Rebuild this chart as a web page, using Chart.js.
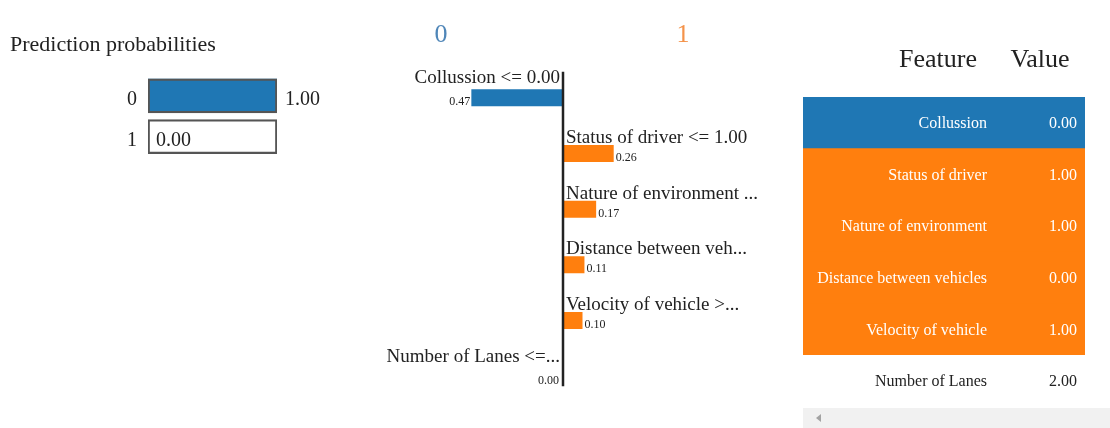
<!DOCTYPE html>
<html>
<head>
<meta charset="utf-8">
<script src="https://cdn.jsdelivr.net/npm/chart.js@4/dist/chart.umd.min.js"></script>
<style>
    body { margin: 0; background: #fff; width: 1110px; height: 428px; overflow: hidden; position: relative; }
    canvas { position: absolute; top: 0; }
    #proba { left: 0; }
    #explain { left: 370px; }
    #table { left: 790px; }
    .scroll { position: absolute; left: 803px; top: 408px; width: 307px; height: 20px; background: #f1f1f1; }
    .scroll .arrow { position: absolute; left: 13px; top: 6px; width: 0; height: 0;
        border-top: 4px solid transparent; border-bottom: 4px solid transparent; border-right: 5px solid #a3a3a3; }
</style>
</head>
<body>
<canvas id="proba" width="340" height="180"></canvas>
<canvas id="explain" width="420" height="428"></canvas>
<canvas id="table" width="320" height="428"></canvas>
<div class="scroll"><div class="arrow"></div></div>
<script>
// data
const classNames = ['0', '1'];
const probabilities = [1.00, 0.00];
const ruleLabels = ['Collussion <= 0.00', 'Status of driver <= 1.00', 'Nature of environment ...',
    'Distance between veh...', 'Velocity of vehicle >...', 'Number of Lanes <=...'];
const weights = [-0.47, 0.26, 0.17, 0.11, 0.10, 0.00];
const featureNames = ['Collussion', 'Status of driver', 'Nature of environment',
    'Distance between vehicles', 'Velocity of vehicle', 'Number of Lanes'];
const featureValues = [0.00, 1.00, 1.00, 0.00, 1.00, 2.00];

const classColors = ['#1f77b4', '#ff7f0e'];
const titleColors = ['#4f86b8', '#f4934a'];
const FONT = '"Liberation Serif", "Times New Roman", serif';
const TEXT = '#222';

// prediction probabilities
const probaText = {
    id: 'probaText',
    afterDatasetsDraw(chart) {
        const ctx = chart.ctx;
        const meta = chart.getDatasetMeta(0);
        const x = chart.scales.x;
        ctx.save();
        ctx.font = `20px ${FONT}`;
        ctx.fillStyle = TEXT;
        ctx.textBaseline = 'middle';
        ctx.textAlign = 'left';
        probabilities.forEach((p, i) => {
            ctx.fillText(p.toFixed(2), x.getPixelForValue(p) + 8, meta.data[i].y + 4);
        });
        ctx.restore();
    }
};

new Chart(document.getElementById('proba'), {
    type: 'bar',
    data: {
        labels: classNames,
        datasets: [{
            data: probabilities,
            backgroundColor: classColors,
            borderWidth: 0,
            inflateAmount: 0,
            barThickness: 34,
            grouped: false,
            order: 2
        }, {
            data: classNames.map(() => 1),
            backgroundColor: 'rgba(0,0,0,0)',
            borderColor: '#555',
            borderWidth: 1.5,
            borderSkipped: false,
            barThickness: 34,
            grouped: false,
            order: 1
        }]
    },
    options: {
        indexAxis: 'y',
        responsive: false,
        animation: false,
        devicePixelRatio: 1,
        layout: { padding: { left: 10, right: 63, top: 0, bottom: 19 } },
        scales: {
            x: { display: false, min: 0, max: 1 },
            y: {
                grid: { display: false, drawTicks: false },
                border: { display: false },
                ticks: { padding: 11, labelOffset: 4, color: TEXT, font: { family: FONT, size: 20 } },
                afterFit: (scale) => { scale.width = 138; }
            }
        },
        plugins: {
            legend: { display: false },
            tooltip: { enabled: false },
            title: {
                display: true,
                text: 'Prediction probabilities',
                align: 'start',
                color: TEXT,
                font: { family: FONT, size: 22, weight: 'normal' },
                padding: { top: 32, bottom: 17 }
            }
        }
    },
    plugins: [probaText]
});

// explanation bars
const explainText = {
    id: 'explainText',
    afterDatasetsDraw(chart) {
        const ctx = chart.ctx;
        const x = chart.scales.x;
        const zero = x.getPixelForValue(0);
        const meta = chart.getDatasetMeta(0);
        const bars = meta.data;
        ctx.save();

        // class headings
        ctx.font = `26px ${FONT}`;
        ctx.textAlign = 'center';
        ctx.textBaseline = 'alphabetic';
        ctx.fillStyle = titleColors[0];
        ctx.fillText(classNames[0], 71, 42);
        ctx.fillStyle = titleColors[1];
        ctx.fillText(classNames[1], 313, 42);

        // zero axis
        ctx.strokeStyle = TEXT;
        ctx.lineWidth = 2.5;
        ctx.beginPath();
        ctx.moveTo(zero, bars[0].y - 26);
        ctx.lineTo(zero, bars[bars.length - 1].y + 10);
        ctx.stroke();

        ctx.fillStyle = TEXT;
        weights.forEach((w, i) => {
            const bar = bars[i];
            const top = bar.y - 8.5;
            const bottom = bar.y + 8.5;
            ctx.font = `19px ${FONT}`;
            ctx.textAlign = w > 0 ? 'left' : 'right';
            ctx.fillText(ruleLabels[i], w > 0 ? zero + 3 : zero - 3, w > 0 ? top - 2 : top - 6);
            ctx.font = `12px ${FONT}`;
            const vx = w > 0 ? bar.x + 2 : (w === 0 ? zero - 4 : bar.x - 1);
            ctx.fillText(Math.abs(w).toFixed(2), vx, bottom - 1);
        });
        ctx.restore();
    }
};

new Chart(document.getElementById('explain'), {
    type: 'bar',
    data: {
        labels: ruleLabels,
        datasets: [{
            data: weights,
            backgroundColor: weights.map(w => w < 0 ? classColors[0] : classColors[1]),
            borderWidth: 0,
            inflateAmount: 0,
            barThickness: 17
        }]
    },
    options: {
        indexAxis: 'y',
        responsive: false,
        animation: false,
        devicePixelRatio: 1,
        layout: { padding: { left: 95.5, right: 51.5, top: 70, bottom: 24 } },
        scales: {
            x: { display: false, min: -0.5, max: 0.9 },
            y: { display: false }
        },
        plugins: {
            legend: { display: false },
            tooltip: { enabled: false }
        }
    },
    plugins: [explainText]
});

// feature / value table
const tableText = {
    id: 'tableText',
    afterDatasetsDraw(chart) {
        const ctx = chart.ctx;
        const bars = chart.getDatasetMeta(0).data;
        ctx.save();
        ctx.fillStyle = TEXT;
        ctx.font = `26px ${FONT}`;
        ctx.textAlign = 'center';
        ctx.textBaseline = 'alphabetic';
        ctx.fillText('Feature', 148, 67);
        ctx.fillText('Value', 250, 67);

        ctx.font = `16px ${FONT}`;
        ctx.textAlign = 'right';
        ctx.textBaseline = 'middle';
        featureNames.forEach((name, i) => {
            ctx.fillStyle = weights[i] === 0 ? TEXT : '#ffffff';
            ctx.fillText(name, 197, bars[i].y + 1);
            ctx.fillText(featureValues[i].toFixed(2), 287, bars[i].y + 1);
        });
        ctx.restore();
    }
};

new Chart(document.getElementById('table'), {
    type: 'bar',
    data: {
        labels: featureNames,
        datasets: [{
            data: featureNames.map(() => 1),
            backgroundColor: weights.map(w => w < 0 ? classColors[0] : (w > 0 ? classColors[1] : '#ffffff')),
            borderWidth: 0,
            barPercentage: 1,
            categoryPercentage: 1
        }]
    },
    options: {
        indexAxis: 'y',
        responsive: false,
        animation: false,
        devicePixelRatio: 1,
        layout: { padding: { left: 13, right: 25, top: 97, bottom: 21 } },
        scales: {
            x: { display: false, min: 0, max: 1 },
            y: { display: false }
        },
        plugins: {
            legend: { display: false },
            tooltip: { enabled: false }
        }
    },
    plugins: [tableText]
});
</script>
</body>
</html>
